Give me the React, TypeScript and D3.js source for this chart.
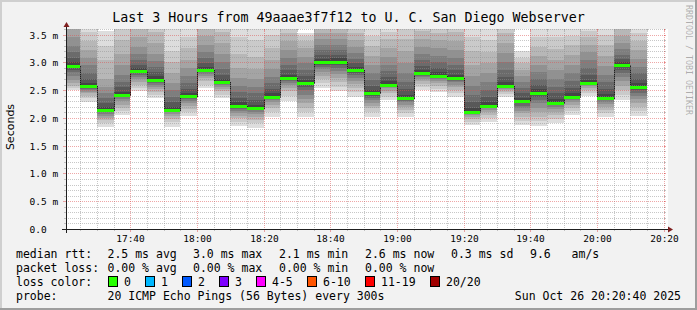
import React from 'react';
import * as d3 from 'd3';

// ---------------- data ----------------
const barEnds = [
  '17:25', '17:30', '17:35', '17:40', '17:45', '17:50', '17:55', '18:00', '18:05', '18:10',
  '18:15', '18:20', '18:25', '18:30', '18:35', '18:40', '18:45', '18:50', '18:55', '19:00',
  '19:05', '19:10', '19:15', '19:20', '19:25', '19:30', '19:35', '19:40', '19:45', '19:50',
  '19:55', '20:00', '20:05', '20:10', '20:15',
];

const medians = [
  2.93, 2.57, 2.15, 2.42, 2.85, 2.69, 2.15, 2.39, 2.87, 2.64,
  2.21, 2.18, 2.38, 2.72, 2.62, 3.0, 3.01, 2.86, 2.44, 2.6,
  2.35, 2.8, 2.76, 2.72, 2.11, 2.21, 2.57, 2.3, 2.45, 2.27,
  2.38, 2.62, 2.36, 2.95, 2.56,
];

// 20 sorted ping rtts (ms) per 5-minute step
const pings = [
  [2.50, 2.53, 2.57, 2.62, 2.68, 2.75, 2.82, 2.87, 2.90, 2.92, 2.94, 3.00, 3.08, 3.18, 3.30, 3.45, 3.62, 3.70, 3.78, 3.85],
  [2.29, 2.35, 2.40, 2.44, 2.47, 2.50, 2.52, 2.54, 2.56, 2.57, 2.58, 2.62, 2.70, 2.80, 2.95, 3.08, 3.22, 3.38, 3.55, 3.70],
  [1.84, 1.90, 1.96, 2.00, 2.04, 2.07, 2.10, 2.12, 2.14, 2.15, 2.16, 2.20, 2.26, 2.35, 2.45, 2.55, 2.70, 3.05, 3.30, 3.57],
  [2.05, 2.12, 2.18, 2.24, 2.30, 2.34, 2.37, 2.39, 2.41, 2.42, 2.43, 2.47, 2.55, 2.65, 2.78, 2.95, 3.15, 3.40, 3.62, 3.75],
  [2.48, 2.54, 2.60, 2.65, 2.70, 2.74, 2.78, 2.81, 2.84, 2.85, 2.86, 2.90, 2.96, 3.05, 3.15, 3.28, 3.45, 3.60, 3.70, 3.80],
  [2.36, 2.42, 2.47, 2.52, 2.56, 2.60, 2.63, 2.66, 2.68, 2.69, 2.70, 2.75, 2.82, 2.92, 3.02, 3.15, 3.35, 3.55, 3.68, 3.80],
  [1.84, 1.92, 1.98, 2.03, 2.07, 2.10, 2.12, 2.13, 2.14, 2.15, 2.16, 2.20, 2.28, 2.38, 2.50, 2.62, 2.80, 3.00, 3.20, 3.70],
  [2.03, 2.10, 2.16, 2.22, 2.27, 2.31, 2.34, 2.36, 2.38, 2.39, 2.40, 2.45, 2.52, 2.62, 2.75, 2.90, 3.05, 3.25, 3.45, 3.75],
  [2.53, 2.60, 2.66, 2.71, 2.75, 2.79, 2.82, 2.84, 2.86, 2.87, 2.88, 2.92, 2.98, 3.08, 3.18, 3.32, 3.48, 3.62, 3.72, 3.85],
  [2.35, 2.42, 2.48, 2.52, 2.56, 2.59, 2.61, 2.62, 2.63, 2.64, 2.65, 2.70, 2.78, 2.88, 3.00, 3.15, 3.35, 3.55, 3.68, 3.80],
  [1.86, 1.93, 1.99, 2.04, 2.09, 2.13, 2.16, 2.18, 2.20, 2.21, 2.22, 2.28, 2.36, 2.46, 2.58, 2.72, 2.90, 3.15, 3.45, 3.70],
  [1.82, 1.90, 1.97, 2.02, 2.07, 2.11, 2.14, 2.16, 2.17, 2.18, 2.19, 2.24, 2.32, 2.44, 2.56, 2.70, 2.88, 3.10, 3.40, 3.70],
  [2.02, 2.10, 2.17, 2.23, 2.28, 2.32, 2.35, 2.37, 2.38, 2.38, 2.39, 2.44, 2.52, 2.62, 2.74, 2.88, 3.05, 3.25, 3.50, 3.70],
  [2.30, 2.40, 2.48, 2.54, 2.59, 2.63, 2.66, 2.69, 2.71, 2.72, 2.73, 2.78, 2.86, 2.96, 3.08, 3.22, 3.38, 3.52, 3.62, 3.75],
  [2.02, 2.10, 2.18, 2.26, 2.34, 2.42, 2.50, 2.56, 2.60, 2.62, 2.63, 2.68, 2.76, 2.86, 2.98, 3.10, 3.25, 3.38, 3.47, 3.53],
  [2.54, 2.62, 2.70, 2.76, 2.82, 2.88, 2.92, 2.96, 2.99, 3.00, 3.01, 3.06, 3.13, 3.22, 3.32, 3.42, 3.52, 3.62, 3.72, 3.82],
  [2.48, 2.56, 2.64, 2.72, 2.79, 2.85, 2.90, 2.95, 2.99, 3.01, 3.02, 3.07, 3.14, 3.22, 3.32, 3.42, 3.52, 3.62, 3.72, 3.82],
  [2.37, 2.46, 2.54, 2.61, 2.67, 2.72, 2.77, 2.81, 2.84, 2.86, 2.87, 2.92, 2.98, 3.06, 3.16, 3.28, 3.40, 3.52, 3.62, 3.72],
  [2.02, 2.10, 2.17, 2.22, 2.27, 2.32, 2.36, 2.39, 2.42, 2.43, 2.45, 2.50, 2.58, 2.68, 2.80, 2.95, 3.12, 3.30, 3.48, 3.62],
  [2.32, 2.38, 2.44, 2.49, 2.53, 2.56, 2.58, 2.59, 2.60, 2.60, 2.61, 2.66, 2.74, 2.84, 2.96, 3.10, 3.26, 3.42, 3.55, 3.65],
  [2.01, 2.08, 2.14, 2.19, 2.24, 2.28, 2.31, 2.33, 2.34, 2.35, 2.36, 2.42, 2.52, 2.64, 2.80, 2.98, 3.20, 3.42, 3.62, 3.75],
  [2.51, 2.56, 2.61, 2.66, 2.70, 2.74, 2.76, 2.78, 2.79, 2.80, 2.81, 2.86, 2.94, 3.04, 3.15, 3.28, 3.42, 3.56, 3.68, 3.80],
  [2.46, 2.52, 2.58, 2.63, 2.67, 2.70, 2.72, 2.74, 2.75, 2.76, 2.77, 2.82, 2.90, 3.00, 3.12, 3.26, 3.40, 3.52, 3.62, 3.72],
  [2.37, 2.44, 2.50, 2.55, 2.60, 2.64, 2.67, 2.69, 2.71, 2.72, 2.73, 2.78, 2.86, 2.96, 3.08, 3.22, 3.38, 3.55, 3.68, 3.80],
  [1.87, 1.93, 1.98, 2.02, 2.05, 2.07, 2.09, 2.10, 2.11, 2.11, 2.12, 2.18, 2.28, 2.42, 2.58, 2.75, 2.95, 3.20, 3.45, 3.70],
  [1.93, 2.00, 2.06, 2.11, 2.15, 2.17, 2.19, 2.20, 2.21, 2.21, 2.22, 2.28, 2.38, 2.50, 2.64, 2.80, 2.98, 3.18, 3.40, 3.68],
  [2.38, 2.43, 2.47, 2.50, 2.52, 2.54, 2.55, 2.56, 2.57, 2.57, 2.58, 2.64, 2.74, 2.86, 3.00, 3.16, 3.34, 3.52, 3.66, 3.80],
  [1.88, 1.95, 2.02, 2.08, 2.13, 2.18, 2.22, 2.26, 2.28, 2.30, 2.31, 2.36, 2.44, 2.54, 2.64, 2.75, 2.86, 2.98, 3.08, 3.20],
  [1.86, 1.94, 2.02, 2.10, 2.18, 2.26, 2.32, 2.38, 2.42, 2.44, 2.46, 2.52, 2.60, 2.70, 2.82, 2.96, 3.12, 3.28, 3.45, 3.70],
  [1.91, 1.98, 2.05, 2.11, 2.16, 2.20, 2.23, 2.25, 2.26, 2.27, 2.28, 2.34, 2.44, 2.56, 2.70, 2.86, 3.04, 3.24, 3.45, 3.68],
  [2.05, 2.12, 2.18, 2.24, 2.28, 2.32, 2.34, 2.36, 2.37, 2.38, 2.39, 2.45, 2.54, 2.66, 2.80, 2.96, 3.14, 3.32, 3.48, 3.65],
  [2.39, 2.45, 2.50, 2.54, 2.57, 2.59, 2.60, 2.61, 2.62, 2.62, 2.63, 2.68, 2.78, 2.90, 3.04, 3.18, 3.32, 3.46, 3.56, 3.65],
  [2.01, 2.08, 2.14, 2.20, 2.25, 2.29, 2.32, 2.34, 2.35, 2.36, 2.37, 2.43, 2.52, 2.64, 2.78, 2.94, 3.12, 3.32, 3.50, 3.66],
  [2.33, 2.42, 2.50, 2.58, 2.66, 2.73, 2.80, 2.86, 2.91, 2.94, 2.96, 3.00, 3.06, 3.14, 3.24, 3.35, 3.48, 3.60, 3.72, 3.85],
  [2.04, 2.12, 2.20, 2.27, 2.34, 2.40, 2.45, 2.50, 2.54, 2.55, 2.57, 2.62, 2.70, 2.80, 2.92, 3.06, 3.22, 3.38, 3.52, 3.62],
];

const xTickLabels = ['17:40', '18:00', '18:20', '18:40', '19:00', '19:20', '19:40', '20:00', '20:20'];
const yTicks = [0, 0.5, 1.0, 1.5, 2.0, 2.5, 3.0, 3.5];
const yTickLabels = ['0.0', '0.5 m', '1.0 m', '1.5 m', '2.0 m', '2.5 m', '3.0 m', '3.5 m'];
const yMax = 3.6;

const titleText = 'Last 3 Hours from 49aaae3f7f12 to U. C. San Diego Webserver';
const yAxisTitle = 'Seconds';
const rttRow = ['median rtt:', '2.5 ms avg', '3.0 ms max', '2.1 ms min', '2.6 ms now', '0.3 ms sd', '9.6   am/s'];
const lossRow = ['packet loss:', '0.00 % avg', '0.00 % max', '0.00 % min', '0.00 % now'];
const lossColorLabel = 'loss color:';
const lossLabels = ['0', '1', '2', '3', '4-5', '6-10', '11-19', '20/20'];
const lossColors = ['#26ff00', '#00b8ff', '#0059ff', '#7e00ff', '#ff00ff', '#ff5500', '#ff0000', '#a10000'];
const probeRow = ['probe:', '20 ICMP Echo Pings (56 Bytes) every 300s'];
const dateText = 'Sun Oct 26 20:20:40 2025';
const watermark = 'RRDTOOL / TOBI OETIKER';

// ---------------- layout ----------------
const W = 697;
const H = 310;
const X0 = 66;
const XS = 600;
const Y0 = 229;
const YS = 200;
const MONO = "'DejaVu Sans Mono', monospace";
const startTime = new Date(2025, 9, 26, 17, 20, 40);
const endTime = new Date(2025, 9, 26, 20, 20, 40);
const rttX = [16, 107.5, 193, 279, 365, 451, 530];
const lossX = [16, 107.5, 193, 279, 365];
const boxX = [108, 145, 182, 219, 256, 307, 365, 430];
const rowY = [258, 272, 286, 300];

const parseHM = (s: string) => {
  const [h, m] = s.split(':').map(Number);
  return new Date(2025, 9, 26, h, m, 0);
};

const GRID = 'rgba(143,143,143,0.5)';
const MGRID = 'rgba(222,79,79,0.5)';

export default function App() {
  const x = d3.scaleTime().domain([startTime, endTime]).range([X0, X0 + XS]);
  const y = d3.scaleLinear().domain([0, yMax]).range([Y0, Y0 - YS]);

  const bars = barEnds.map((e, i) => {
    const end = parseHM(e);
    const st = new Date(Math.max(+end - 300000, +startTime));
    return { x0: Math.round(x(st)), x1: Math.round(x(end)), p: pings[i], m: medians[i] };
  });

  const majorTimes = xTickLabels.map(parseHM);
  const minorTimes = d3
    .timeMinute.every(5)!
    .range(startTime, endTime)
    .filter((t) => t.getMinutes() % 20 !== 0);
  const minorVals = y.ticks(36).filter((v) => v > 0 && Math.abs(v * 2 - Math.round(v * 2)) > 1e-6);
  const majorVals = yTicks.filter((v) => v > 0);

  const pts: [number, number][] = [];
  bars.forEach((b) => {
    const yy = Math.round(y(b.m)) + 0.5;
    pts.push([b.x0, yy], [b.x1, yy]);
  });
  const medianPath = d3.line()(pts) || '';

  const top = Y0 - YS;

  return (
    <svg
      width={W}
      height={H}
      style={{ position: 'absolute', left: 0, top: 0, display: 'block' }}
      xmlns="http://www.w3.org/2000/svg"
    >
      <defs>
        <clipPath id="plotclip">
          <rect x={X0} y={top} width={XS} height={YS} />
        </clipPath>
      </defs>
      {/* background and frame */}
      <rect x={0} y={0} width={W} height={H} fill="#f2f2f2" />
      <rect x={0} y={0} width={W} height={2} fill="#cfcfcf" />
      <rect x={0} y={0} width={2} height={H} fill="#cfcfcf" />
      <rect x={0} y={H - 2} width={W} height={2} fill="#9e9e9e" />
      <rect x={W - 2} y={0} width={2} height={H} fill="#9e9e9e" />

      {/* canvas */}
      <rect x={X0} y={top} width={XS + 2} height={YS} fill="#ffffff" />

      {/* smoke */}
      <g clipPath="url(#plotclip)" shapeRendering="crispEdges">
        {bars.map((b, i) => (
          <g key={i}>
            {d3.range(10).map((k) => {
              const hi = Math.round(y(Math.min(b.p[19 - k], yMax + 0.1)));
              const lo = Math.round(y(b.p[k]));
              const g = Math.floor((190 / 10) * (10 - (k + 1))) + 50;
              return (
                <rect
                  key={k}
                  x={b.x0}
                  y={hi}
                  width={b.x1 - b.x0}
                  height={Math.max(0, lo - hi)}
                  fill={`rgb(${g},${g},${g})`}
                />
              );
            })}
          </g>
        ))}
      </g>

      {/* median step line */}
      <path d={medianPath} fill="none" stroke="#202020" strokeWidth={1} shapeRendering="crispEdges" />

      {/* grid */}
      <g shapeRendering="crispEdges" strokeWidth={1}>
        {minorTimes.map((t, i) => {
          const xx = Math.round(x(t)) + 0.5;
          return (
            <g key={'mv' + i} stroke={GRID}>
              <line x1={xx} x2={xx} y1={top} y2={Y0} strokeDasharray="1,1" />
              <line x1={xx} x2={xx} y1={Y0} y2={Y0 + 2} />
              <line x1={xx} x2={xx} y1={top} y2={top + 2} />
            </g>
          );
        })}
        {minorVals.map((v, i) => {
          const yy = Math.round(y(v)) + 0.5;
          return (
            <g key={'mh' + i} stroke={GRID}>
              <line x1={X0} x2={X0 + XS} y1={yy} y2={yy} strokeDasharray="1,1" />
              <line x1={X0 - 2} x2={X0} y1={yy} y2={yy} />
              <line x1={X0 + XS - 2} x2={X0 + XS} y1={yy} y2={yy} />
            </g>
          );
        })}
        {majorTimes.map((t, i) => {
          const xx = Math.round(x(t)) + 0.5;
          return (
            <g key={'Mv' + i} stroke={MGRID}>
              <line x1={xx} x2={xx} y1={top} y2={Y0} strokeDasharray="1,1" />
              <line x1={xx} x2={xx} y1={Y0} y2={Y0 + 3} />
              <line x1={xx} x2={xx} y1={top} y2={top + 2} />
            </g>
          );
        })}
        {majorVals.map((v, i) => {
          const yy = Math.round(y(v)) + 0.5;
          return (
            <g key={'Mh' + i} stroke={MGRID}>
              <line x1={X0} x2={X0 + XS} y1={yy} y2={yy} strokeDasharray="1,1" />
              <line x1={X0 - 3} x2={X0} y1={yy} y2={yy} />
              <line x1={X0 + XS - 2} x2={X0 + XS} y1={yy} y2={yy} />
            </g>
          );
        })}
      </g>

      {/* loss-coloured median */}
      <g shapeRendering="crispEdges">
        {bars.map((b, i) => (
          <rect key={i} x={b.x0} y={Math.round(y(b.m)) - 1} width={b.x1 - b.x0} height={3} fill={lossColors[0]} />
        ))}
      </g>

      {/* axes */}
      <g shapeRendering="crispEdges">
        <line x1={X0 - 4} x2={X0 + XS + 4} y1={Y0 + 0.5} y2={Y0 + 0.5} stroke="#1f1f1f" />
        <line x1={X0 + 0.5} x2={X0 + 0.5} y1={Y0 + 4} y2={top - 4} stroke="#1f1f1f" />
      </g>
      <polygon
        points={`${X0 + XS + 2},${Y0 - 3 + 0.5} ${X0 + XS + 2},${Y0 + 3 + 0.5} ${X0 + XS + 7},${Y0 + 0.5}`}
        fill="#7f1f1f"
      />
      <polygon
        points={`${X0 - 3 + 0.5},${top - 2} ${X0 + 3 + 0.5},${top - 2} ${X0 + 0.5},${top - 7}`}
        fill="#7f1f1f"
      />

      {/* y tick labels */}
      <g fontFamily={MONO} fontSize={9.5} fill="#000">
        {yTicks.map((v, i) => (
          <text key={i} x={29.5} y={Math.round(y(v)) + 3.5}>
            {yTickLabels[i]}
          </text>
        ))}
      </g>
      {/* x tick labels */}
      <g fontFamily={MONO} fontSize={9.5} fill="#000" textAnchor="middle">
        {majorTimes.map((t, i) => (
          <text key={i} x={Math.round(x(t)) + 0.5} y={242}>
            {d3.timeFormat('%H:%M')(t)}
          </text>
        ))}
      </g>

      {/* y axis title */}
      <text
        transform="translate(14,127) rotate(-90)"
        textAnchor="middle"
        fontFamily="'DejaVu Sans', sans-serif"
        fontSize={11}
        fill="#000"
      >
        {yAxisTitle}
      </text>

      {/* title */}
      <text x={348.5} y={22} textAnchor="middle" fontFamily={MONO} fontSize={13.3} fill="#000">
        {titleText}
      </text>

      {/* watermark */}
      <text
        transform={`translate(686,5) rotate(90)`}
        fontFamily={MONO}
        fontSize={8.3}
        fill="rgba(0,0,0,0.3)"
      >
        {watermark}
      </text>

      {/* legend */}
      <g fontFamily={MONO} fontSize={11.5} fill="#000" style={{ whiteSpace: 'pre' }}>
        {rttRow.map((s, i) => (
          <text key={'r' + i} x={rttX[i]} y={rowY[0]} xmlSpace="preserve">
            {s}
          </text>
        ))}
        {lossRow.map((s, i) => (
          <text key={'l' + i} x={lossX[i]} y={rowY[1]} xmlSpace="preserve">
            {s}
          </text>
        ))}
        <text x={16} y={rowY[2]}>
          {lossColorLabel}
        </text>
        {lossLabels.map((s, i) => (
          <g key={'c' + i}>
            <rect
              x={boxX[i] + 0.5}
              y={rowY[2] - 9.5}
              width={9}
              height={10}
              fill={lossColors[i]}
              stroke="#000"
              shapeRendering="crispEdges"
            />
            <text x={boxX[i] + 16} y={rowY[2]}>
              {s}
            </text>
          </g>
        ))}
        <text x={16} y={rowY[3]}>
          {probeRow[0]}
        </text>
        <text x={107.5} y={rowY[3]}>
          {probeRow[1]}
        </text>
        <text x={681} y={rowY[3]} textAnchor="end">
          {dateText}
        </text>
      </g>
    </svg>
  );
}
